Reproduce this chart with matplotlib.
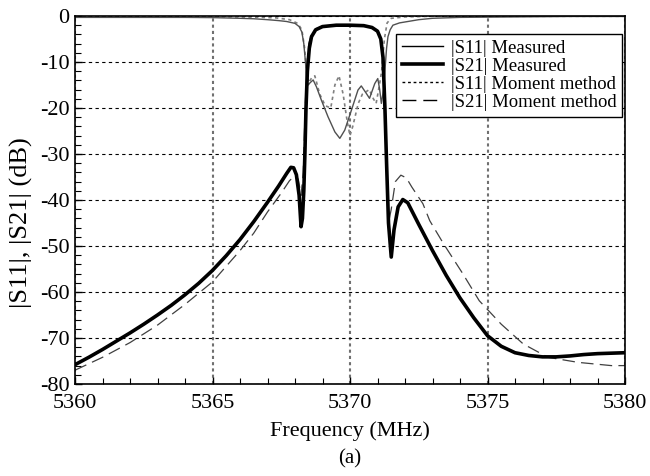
import matplotlib
matplotlib.use("Agg")
import matplotlib.pyplot as plt
from matplotlib.ticker import MultipleLocator
from matplotlib.lines import Line2D

plt.rcParams['font.family'] = ['Liberation Serif', 'DejaVu Serif']
plt.rcParams['axes.unicode_minus'] = False

# ==========================================
# Data
# ==========================================
# |S21| measured
freq_s21_meas = [5360.0, 5360.5, 5361.0, 5361.5, 5362.0, 5362.5, 5363.0, 5363.5, 5364.0,
                 5364.5, 5365.0, 5365.5, 5366.0, 5366.5, 5367.0, 5367.4, 5367.7, 5367.85,
                 5367.95, 5368.05, 5368.15, 5368.22, 5368.27, 5368.32, 5368.36, 5368.4,
                 5368.45, 5368.52, 5368.6, 5368.75, 5369.0, 5369.5, 5370.0, 5370.5, 5370.8,
                 5371.0, 5371.12, 5371.2, 5371.27, 5371.33, 5371.4, 5371.5, 5371.6, 5371.75,
                 5371.92, 5372.1, 5372.5, 5373.0, 5373.5, 5374.0, 5374.5, 5375.0, 5375.5,
                 5376.0, 5376.5, 5377.0, 5377.5, 5378.0, 5378.5, 5379.0, 5379.5, 5380.0]
s21_meas = [-75.8, -74.2, -72.5, -70.7, -68.9, -67.0, -65.0, -62.9, -60.6,
            -58.1, -55.3, -52.1, -48.6, -44.7, -40.5, -37.0, -34.2, -32.9,
            -33.0, -34.5, -39.0, -45.8, -44.0, -38.0, -30.0, -20.0,
            -12.0, -7.0, -4.5, -3.0, -2.3, -2.0, -2.0, -2.1, -2.5,
            -3.3, -5.0, -9.0, -20.0, -32.0, -45.0, -52.4, -46.5, -41.5,
            -39.9, -40.6, -45.3, -51.0, -56.4, -61.3, -65.6, -69.5, -71.8,
            -73.2, -73.8, -74.1, -74.1, -73.9, -73.6, -73.4, -73.3, -73.2]

# |S21| moment method
freq_s21_mom = [5360.0, 5361.0, 5362.0, 5363.0, 5364.0, 5365.0, 5366.0, 5366.5, 5367.0,
                5367.5, 5367.8, 5368.0, 5368.12, 5368.22, 5368.3, 5368.36, 5368.42, 5368.5,
                5368.6, 5368.75, 5369.0, 5369.5, 5370.0, 5370.5, 5370.8, 5371.0, 5371.12,
                5371.2, 5371.27, 5371.33, 5371.4, 5371.5, 5371.65, 5371.85, 5372.05, 5372.25,
                5372.65, 5372.9, 5373.4, 5374.1, 5374.7, 5375.5, 5376.3, 5377.2, 5378.3,
                5379.5, 5380.0]
s21_mom = [-77.0, -74.2, -71.0, -67.2, -62.7, -57.8, -51.0, -47.2, -42.6,
           -38.5, -35.8, -34.7, -35.5, -39.0, -34.0, -22.0, -12.0, -6.0,
           -4.0, -2.8, -2.2, -1.9, -1.9, -2.0, -2.4, -3.2, -5.0,
           -9.0, -20.0, -33.0, -45.0, -42.0, -36.0, -34.6, -35.2, -37.2,
           -40.8, -44.5, -49.5, -56.0, -61.9, -67.0, -71.3, -74.2, -75.3,
           -76.0, -76.0]

# |S11| measured
freq_s11_meas = [5360.0, 5362.0, 5364.0, 5365.0, 5366.0, 5366.5, 5367.0, 5367.4, 5367.7,
                 5368.0, 5368.15, 5368.25, 5368.32, 5368.38, 5368.43, 5368.48, 5368.55,
                 5368.66, 5368.78, 5368.96, 5369.2, 5369.45, 5369.63, 5369.81, 5370.05,
                 5370.29, 5370.41, 5370.59, 5370.71, 5370.9, 5371.01, 5371.08, 5371.14,
                 5371.22, 5371.28, 5371.33, 5371.38, 5371.46, 5371.56, 5371.8, 5372.1,
                 5372.5, 5373.0, 5374.0, 5376.0, 5378.0, 5380.0]
s11_meas = [-0.3, -0.3, -0.3, -0.35, -0.5, -0.6, -0.8, -1.0, -1.2,
            -1.6, -2.3, -3.5, -6.0, -10.0, -14.0, -15.0, -14.5,
            -13.9, -15.4, -18.3, -21.9, -25.2, -26.6, -24.8, -20.5,
            -16.1, -15.2, -16.8, -17.9, -14.7, -13.6, -16.0, -19.0,
            -16.0, -11.0, -7.0, -4.5, -3.0, -2.0, -1.5, -1.2,
            -0.8, -0.5, -0.3, -0.2, -0.1, -0.1]

# |S11| moment method
freq_s11_mom = [5360.0, 5363.0, 5365.0, 5366.5, 5367.3, 5367.8, 5368.1, 5368.25, 5368.35,
                5368.42, 5368.5, 5368.6, 5368.72, 5368.9, 5369.1, 5369.3, 5369.45, 5369.6,
                5369.75, 5369.9, 5370.0, 5370.1, 5370.3, 5370.45, 5370.7, 5370.85, 5370.95,
                5371.07, 5371.15, 5371.25, 5371.35, 5371.5, 5372.0, 5373.0, 5375.0, 5380.0]
s11_mom = [-0.1, -0.1, -0.15, -0.25, -0.4, -0.8, -1.6, -3.0, -7.0,
           -12.0, -14.5, -13.5, -13.0, -17.0, -19.5, -20.0, -15.0, -13.0,
           -17.0, -23.0, -26.0, -24.0, -19.0, -17.0, -16.0, -18.0, -19.0,
           -15.0, -12.0, -5.0, -1.5, -0.5, -0.2, -0.05, 0.0, 0.0]

legend_labels = ['|S11| Measured', '|S21| Measured', '|S11| Moment method', '|S21| Moment method']

# ==========================================
# Plot
# ==========================================
fig = plt.figure(figsize=(6.5, 4.76), dpi=100)
ax = fig.add_axes([75 / 650, (476 - 384) / 476, 550 / 650, 368 / 476])

ax.plot(freq_s21_mom, s21_mom, color='#404040', lw=0.9, ls=(0, (10, 5)))
ax.plot(freq_s11_mom, s11_mom, color='#808080', lw=1.2, ls=(0, (2, 2)))
ax.plot(freq_s11_meas, s11_meas, color='#505050', lw=1.0)
ax.plot(freq_s21_meas, s21_meas, color='black', lw=2.6)

ax.set_xlim(5360, 5380)
ax.set_ylim(-80, 0)
ax.xaxis.set_major_locator(MultipleLocator(5))
ax.xaxis.set_minor_locator(MultipleLocator(1))
ax.yaxis.set_major_locator(MultipleLocator(10))
ax.yaxis.set_minor_locator(MultipleLocator(2))
ax.tick_params(which='both', direction='in', top=False, right=False, labelsize=16)
ax.tick_params(which='major', length=5, width=1)
ax.tick_params(which='minor', length=4, width=0.8)
ax.tick_params(axis='x', pad=7)
ax.tick_params(axis='y', pad=4)

ax.grid(axis='y', color='black', lw=0.8, ls=(0, (3, 3)))
ax.grid(axis='x', color='#707070', lw=1.5, ls=(0, (1.5, 1.5)))
for sp in ax.spines.values():
    sp.set_linewidth(1.2)

ax.set_xlabel('Frequency (MHz)', fontsize=16, labelpad=6)
fig.text(21 / 650, 1 - 223 / 476, '|S11|, |S21| (dB)', rotation=90,
         ha='center', va='center', fontsize=19)
fig.text(350 / 650, 1 - 459 / 476, '(a)', ha='center', va='center', fontsize=15)

handles = [Line2D([], [], color='black', lw=1.0),
           Line2D([], [], color='black', lw=2.6),
           Line2D([], [], color='black', lw=1.0, ls=(0, (2, 2))),
           Line2D([], [], color='black', lw=1.0, ls=(0, (10, 5)))]
leg = ax.legend(handles, legend_labels, loc='upper right', bbox_to_anchor=(0.9945, 0.951),
                fontsize=13.5, frameon=True, fancybox=False, framealpha=1, edgecolor='black',
                borderaxespad=0, borderpad=0.3, labelspacing=0.05, handlelength=2.2,
                handletextpad=0.4)
leg.get_frame().set_linewidth(1.0)

fig.savefig('out.png', dpi=100)
